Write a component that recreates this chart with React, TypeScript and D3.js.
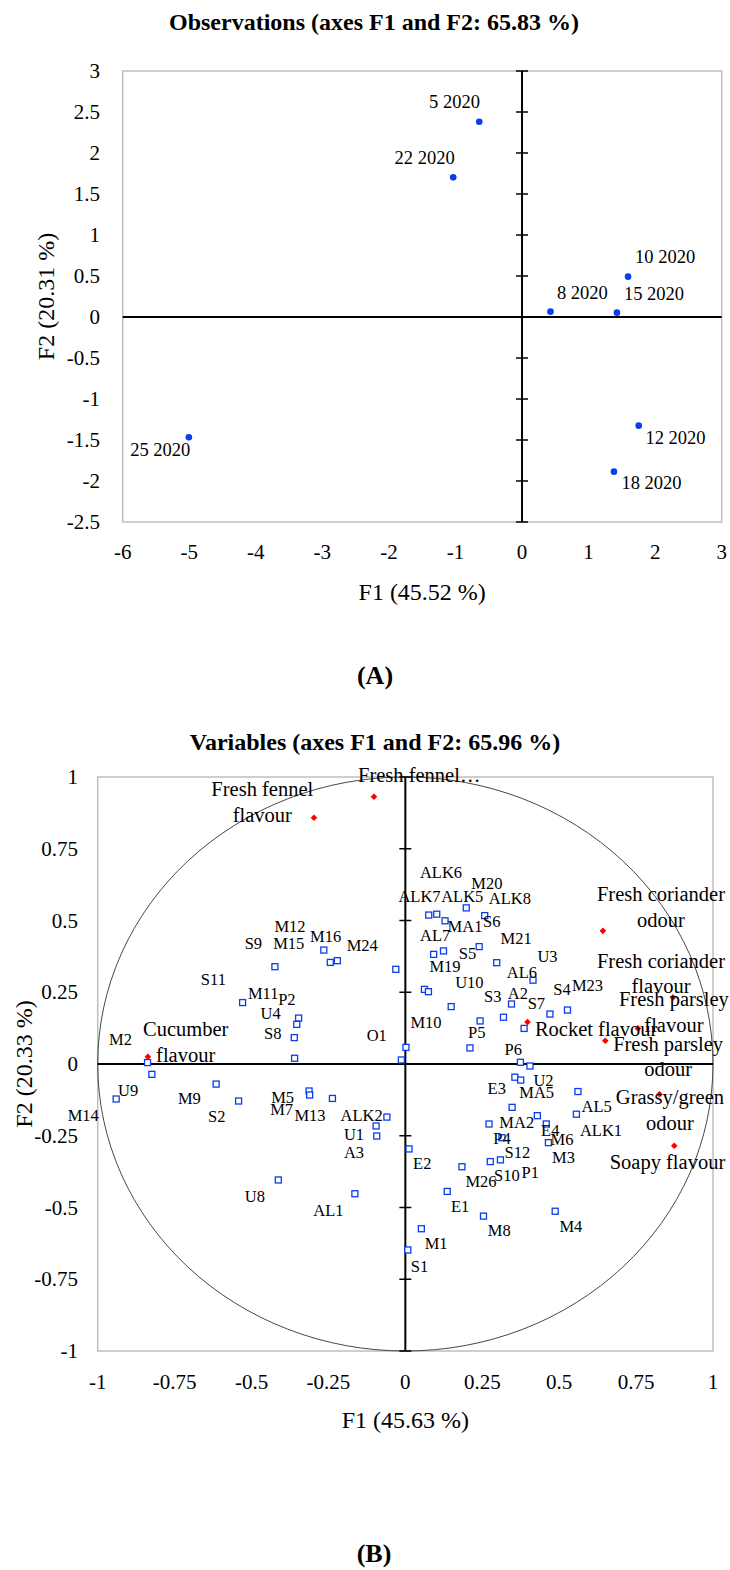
import React from 'react';
import * as d3 from 'd3';

// ---------- (A) Observations ----------
const obsNames = ['5 2020', '22 2020', '10 2020', '8 2020', '15 2020', '25 2020', '12 2020', '18 2020'];
const obsF1 = [-0.643, -1.034, 1.593, 0.427, 1.426, -5.006, 1.753, 1.381];
const obsF2 = [2.382, 1.703, 0.492, 0.065, 0.053, -1.467, -1.325, -1.886];
// where each observation's label sits (data units)
const obsLabelF1 = [-1.014, -1.463, 2.15, 0.907, 1.983, -5.436, 2.305, 1.946];
const obsLabelF2 = [2.618, 1.943, 0.735, 0.289, 0.277, -1.622, -1.472, -2.028];

const obsXTicks = [-6, -5, -4, -3, -2, -1, 0, 1, 2, 3];
const obsYTicks = [3, 2.5, 2, 1.5, 1, 0.5, 0, -0.5, -1, -1.5, -2, -2.5];

// ---------- (B) Variables ----------
const varXTicks = [-1, -0.75, -0.5, -0.25, 0, 0.25, 0.5, 0.75, 1];
const varYTicks = [1, 0.75, 0.5, 0.25, 0, -0.25, -0.5, -0.75, -1];

const sensoryNames = [
  ['Fresh fennel', 'flavour'],
  ['Fresh fennel…'],
  ['Fresh coriander', 'odour'],
  ['Fresh coriander', 'flavour'],
  ['Fresh parsley', 'flavour'],
  ['Rocket flavour'],
  ['Fresh parsley', 'odour'],
  ['Grassy/green', 'odour'],
  ['Soapy flavour'],
  ['Cucumber', 'flavour'],
];
const sensoryF1 = [-0.297, -0.102, 0.642, 0.87, 0.756, 0.397, 0.65, 0.826, 0.874, -0.837];
const sensoryF2 = [0.858, 0.931, 0.464, 0.232, 0.124, 0.146, 0.081, -0.105, -0.285, 0.025];
const sensoryLabelF1 = [-0.465, 0.045, 0.831, 0.831, 0.873, 0.62, 0.854, 0.86, 0.852, -0.714];
const sensoryLabelF2 = [0.957, 1.007, 0.592, 0.359, 0.226, 0.122, 0.07, -0.115, -0.341, 0.121];

const compoundNames = [
  'S9', 'M12', 'M15', 'M16', 'M24', 'S11', 'M11', 'P2', 'U4', 'S8', 'M2', 'U9', 'M14', 'M9', 'S2', 'M5',
  'M7', 'M13', 'ALK2', 'U1', 'A3', 'U8', 'AL1', 'O1',
  'ALK7', 'ALK6', 'MA1', 'ALK5', 'S6', 'AL7', 'M19', 'S5', 'M21', 'AL6', 'U10', 'M20', 'S3', 'P5', 'A2',
  'ALK8', 'S7', 'S4', 'M23', 'M10', 'U3', 'P6',
  'U2', 'E3', 'MA5', 'AL5', 'MA2', 'E4', 'ALK1', 'P4', 'M6', 'S12', 'M3', 'E2', 'S10', 'P1', 'M26', 'E1',
  'M8', 'M4', 'M1', 'S1',
];
const compoundF1 = [
  -0.424, -0.265, -0.244, -0.221, -0.031, -0.529, -0.347, -0.353, -0.361, -0.36, -0.838, -0.824, -0.94, -0.615, -0.542, -0.313,
  -0.311, -0.237, -0.06, -0.095, -0.093, -0.413, -0.164, -0.013,
  0.076, 0.102, 0.129, 0.198, 0.258, 0.092, 0.124, 0.24, 0.297, 0.415, 0.062, 0.075, 0.149, 0.243, 0.319,
  0.345, 0.386, 0.47, 0.527, 0.002, 0.21, 0.374,
  0.405, 0.356, 0.375, 0.561, 0.347, 0.429, 0.556, 0.272, 0.458, 0.314, 0.465, 0.012, 0.276, 0.309, 0.184, 0.136,
  0.254, 0.487, 0.052, 0.008,
];
const compoundF2 = [
  0.339, 0.397, 0.354, 0.36, 0.33, 0.214, 0.16, 0.138, 0.092, 0.02, 0.005, -0.036, -0.122, -0.07, -0.129, -0.094,
  -0.108, -0.12, -0.185, -0.216, -0.251, -0.404, -0.452, 0.014,
  0.519, 0.522, 0.499, 0.544, 0.517, 0.382, 0.394, 0.409, 0.353, 0.292, 0.26, 0.252, 0.2, 0.15, 0.163,
  0.209, 0.124, 0.174, 0.188, 0.058, 0.056, 0.006,
  -0.007, -0.046, -0.056, -0.096, -0.151, -0.18, -0.175, -0.209, -0.209, -0.257, -0.274, -0.296, -0.34, -0.334, -0.358, -0.444,
  -0.53, -0.513, -0.574, -0.648,
];
const compoundLabelF1 = [
  -0.494, -0.375, -0.379, -0.259, -0.14, -0.624, -0.462, -0.385, -0.438, -0.431, -0.926, -0.901, -1.047, -0.702, -0.613, -0.399,
  -0.402, -0.31, -0.142, -0.167, -0.167, -0.489, -0.25, -0.093,
  0.046, 0.116, 0.194, 0.185, 0.281, 0.097, 0.129, 0.202, 0.36, 0.379, 0.208, 0.265, 0.284, 0.232, 0.366,
  0.34, 0.426, 0.509, 0.592, 0.067, 0.462, 0.351,
  0.449, 0.297, 0.427, 0.622, 0.362, 0.471, 0.636, 0.314, 0.509, 0.364, 0.514, 0.055, 0.33, 0.406, 0.246, 0.178,
  0.305, 0.538, 0.1, 0.046,
];
const compoundLabelF2 = [
  0.421, 0.478, 0.421, 0.444, 0.412, 0.296, 0.244, 0.225, 0.177, 0.105, 0.087, -0.091, -0.178, -0.12, -0.184, -0.116,
  -0.16, -0.18, -0.178, -0.245, -0.308, -0.46, -0.509, 0.098,
  0.585, 0.667, 0.478, 0.585, 0.496, 0.449, 0.341, 0.386, 0.438, 0.32, 0.283, 0.63, 0.234, 0.109, 0.246,
  0.577, 0.211, 0.26, 0.272, 0.144, 0.376, 0.051,
  -0.056, -0.087, -0.1, -0.149, -0.205, -0.23, -0.23, -0.261, -0.262, -0.309, -0.326, -0.346, -0.389, -0.377, -0.408, -0.497,
  -0.581, -0.567, -0.627, -0.704,
];

const FONT = '"Liberation Serif", "Times New Roman", serif';
const BLUE = '#0a3cf0';
const RED = '#ff0000';
const GRID = '#bfbfbf';

function diamond(cx: number, cy: number, r: number) {
  const p = d3.path();
  p.moveTo(cx, cy - r);
  p.lineTo(cx + r, cy);
  p.lineTo(cx, cy + r);
  p.lineTo(cx - r, cy);
  p.closePath();
  return p.toString();
}

export default function App() {
  const xA = d3.scaleLinear().domain([-6, 3]).range([122.7, 721.7]);
  const yA = d3.scaleLinear().domain([-2.5, 3]).range([522, 71]);
  const xB = d3.scaleLinear().domain([-1, 1]).range([97.7, 713]);
  const yB = d3.scaleLinear().domain([-1, 1]).range([1351, 777]);

  const tickLen = 6;

  return (
    <svg
      width={730}
      height={1570}
      style={{ position: 'absolute', left: 0, top: 0, background: '#fff' }}
      fontFamily={FONT}
    >
      <rect x={0} y={0} width={730} height={1570} fill="#fff" />

      {/* ================= Chart A ================= */}
      <text x={374} y={22} textAnchor="middle" dominantBaseline="central" fontSize={24} fontWeight="bold">
        Observations (axes F1 and F2: 65.83 %)
      </text>
      <rect
        x={xA(-6)}
        y={yA(3)}
        width={xA(3) - xA(-6)}
        height={yA(-2.5) - yA(3)}
        fill="none"
        stroke={GRID}
        strokeWidth={1.5}
      />
      <line x1={xA(-6)} x2={xA(3)} y1={yA(0)} y2={yA(0)} stroke="#000" strokeWidth={2} />
      <line x1={xA(0)} x2={xA(0)} y1={yA(3)} y2={yA(-2.5)} stroke="#000" strokeWidth={2} />
      {obsYTicks.map((v) => (
        <line key={'ta' + v} x1={xA(0) - tickLen} x2={xA(0) + tickLen} y1={yA(v)} y2={yA(v)} stroke="#000" strokeWidth={1.5} />
      ))}
      {obsYTicks.map((v) => (
        <text key={'ya' + v} x={100} y={yA(v)} textAnchor="end" dominantBaseline="central" fontSize={21}>
          {String(v)}
        </text>
      ))}
      {obsXTicks.map((v) => (
        <text key={'xa' + v} x={xA(v)} y={552} textAnchor="middle" dominantBaseline="central" fontSize={21}>
          {String(v)}
        </text>
      ))}
      <text x={(xA(-6) + xA(3)) / 2} y={592} textAnchor="middle" dominantBaseline="central" fontSize={24}>
        F1 (45.52 %)
      </text>
      <text
        transform={`translate(46, ${(yA(3) + yA(-2.5)) / 2}) rotate(-90)`}
        textAnchor="middle"
        dominantBaseline="central"
        fontSize={24}
      >
        F2 (20.31 %)
      </text>
      {obsNames.map((n, i) => (
        <g key={'o' + n}>
          <circle cx={xA(obsF1[i])} cy={yA(obsF2[i])} r={3.3} fill={BLUE} />
          <text
            x={xA(obsLabelF1[i])}
            y={yA(obsLabelF2[i])}
            textAnchor="middle"
            dominantBaseline="central"
            fontSize={18.5}
          >
            {n}
          </text>
        </g>
      ))}
      <text x={375} y={675} textAnchor="middle" dominantBaseline="central" fontSize={26} fontWeight="bold">
        (A)
      </text>

      {/* ================= Chart B ================= */}
      <text x={375} y={742} textAnchor="middle" dominantBaseline="central" fontSize={24} fontWeight="bold">
        Variables (axes F1 and F2: 65.96 %)
      </text>
      <rect
        x={xB(-1)}
        y={yB(1)}
        width={xB(1) - xB(-1)}
        height={yB(-1) - yB(1)}
        fill="none"
        stroke={GRID}
        strokeWidth={1.5}
      />
      <ellipse
        cx={xB(0)}
        cy={yB(0)}
        rx={xB(1) - xB(0)}
        ry={yB(0) - yB(1)}
        fill="none"
        stroke="#333"
        strokeWidth={0.9}
      />
      <line x1={xB(-1)} x2={xB(1)} y1={yB(0)} y2={yB(0)} stroke="#000" strokeWidth={2} />
      <line x1={xB(0)} x2={xB(0)} y1={yB(1)} y2={yB(-1)} stroke="#000" strokeWidth={2} />
      {varYTicks.map((v) => (
        <line key={'tb' + v} x1={xB(0) - tickLen} x2={xB(0) + tickLen} y1={yB(v)} y2={yB(v)} stroke="#000" strokeWidth={1.5} />
      ))}
      {varYTicks.map((v) => (
        <text key={'yb' + v} x={78} y={yB(v)} textAnchor="end" dominantBaseline="central" fontSize={21}>
          {String(v)}
        </text>
      ))}
      {varXTicks.map((v) => (
        <text key={'xb' + v} x={xB(v)} y={1382} textAnchor="middle" dominantBaseline="central" fontSize={21}>
          {String(v)}
        </text>
      ))}
      <text x={xB(0)} y={1420} textAnchor="middle" dominantBaseline="central" fontSize={24}>
        F1 (45.63 %)
      </text>
      <text
        transform={`translate(24, ${yB(0)}) rotate(-90)`}
        textAnchor="middle"
        dominantBaseline="central"
        fontSize={24}
      >
        F2 (20.33 %)
      </text>

      {compoundNames.map((n, i) => (
        <rect
          key={'c' + n}
          x={xB(compoundF1[i]) - 3}
          y={yB(compoundF2[i]) - 3}
          width={6}
          height={6}
          fill="#fff"
          stroke={BLUE}
          strokeWidth={1.3}
        />
      ))}
      {compoundNames.map((n, i) => (
        <text
          key={'cl' + n}
          x={xB(compoundLabelF1[i])}
          y={yB(compoundLabelF2[i])}
          textAnchor="middle"
          dominantBaseline="central"
          fontSize={16.5}
        >
          {n}
        </text>
      ))}
      {sensoryNames.map((lines, i) => (
        <path key={'s' + i} d={diamond(xB(sensoryF1[i]), yB(sensoryF2[i]), 3.3)} fill={RED} />
      ))}
      {sensoryNames.map((lines, i) => (
        <text
          key={'sl' + i}
          x={xB(sensoryLabelF1[i])}
          y={yB(sensoryLabelF2[i])}
          textAnchor="middle"
          dominantBaseline="central"
          fontSize={20.5}
        >
          {lines.map((l, j) => (
            <tspan key={j} x={xB(sensoryLabelF1[i])} dy={j === 0 ? 0 : 25.5}>
              {l}
            </tspan>
          ))}
        </text>
      ))}
      <text x={374} y={1553} textAnchor="middle" dominantBaseline="central" fontSize={26} fontWeight="bold">
        (B)
      </text>
    </svg>
  );
}
